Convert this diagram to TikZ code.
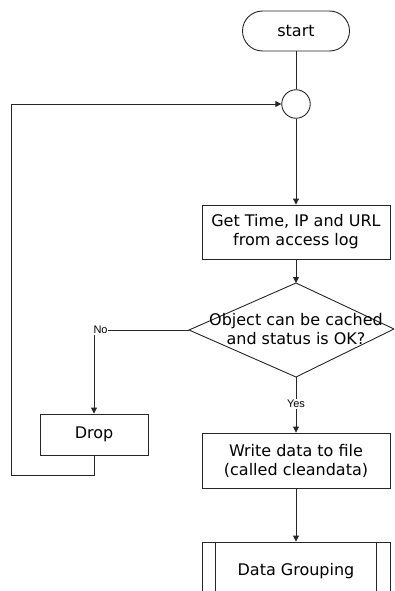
\documentclass[tikz,border=0pt]{standalone}
\usepackage{fontspec}
\setmainfont{DejaVu Sans}
\newfontfamily\lblfont{Liberation Sans}
\usetikzlibrary{arrows.meta,shapes.misc,calc}

\tikzset{
  flow/.style={line width=0.9pt, draw=black!85},
  arr/.style={flow, -{Triangle[length=6pt,width=6pt]}},
  txt/.style={font=\fontsize{16}{19}\selectfont, align=center},
  box/.style={flow, rectangle, txt, minimum width=188pt, inner sep=0pt},
  term/.style={flow, rounded rectangle, txt, minimum width=107pt, minimum height=40pt, inner sep=0pt},
  junction/.style={flow, circle, minimum size=28.5pt, inner sep=0pt},
  lbl/.style={font=\lblfont\fontsize{11}{12}\selectfont, fill=white, inner sep=0.8pt}
}

\begin{document}
\begin{tikzpicture}[x=1pt, y=-1pt]
  \useasboundingbox (0,0) rectangle (394,591);
  \clip (0,0) rectangle (394,591);

  % main column
  \node[term] (start) at (296,31) {start};
  \node[junction] (join) at (296,104) {};
  \node[box, minimum height=54pt] (get) at (296,232) {Get Time, IP and URL\\from access log};

  % decision diamond
  \coordinate (dT) at (296,283);
  \coordinate (dR) at (394,329);
  \coordinate (dB) at (296,377);
  \coordinate (dL) at (189,330);
  \draw[flow, line join=miter] (dT) -- (dR) -- (dB) -- (dL) -- cycle;
  \node[txt] (dec) at (296,329) {Object can be cached\\and status is OK?};

  \node[box, minimum height=55pt] (write) at (296,460.5) {Write data to file\\(called cleandata)};
  \node[box, minimum height=58pt] (group) at (296,571) {Data Grouping};
  \draw[flow] ([xshift=14pt]group.north west) -- ([xshift=14pt]group.south west);
  \draw[flow] ([xshift=-14pt]group.north east) -- ([xshift=-14pt]group.south east);

  % rejected branch
  \node[box, minimum width=108pt, minimum height=41pt] (drop) at (94,434.5) {Drop};

  % connectors
  \draw[flow] (start.south) -- (join.north);
  \draw[arr] (join.south) -- (get.north);
  \draw[arr] (get.south) -- (dT);
  \draw[arr] (dL) -| (drop.north);
  \node[lbl, anchor=west] (no) at (92.5,330) {No};
  \draw[arr] (dB) -- (write.north);
  \node[lbl] (yes) at (296,404) {Yes};
  \draw[arr] (write.south) -- (group.north);

  % loop back to the junction
  \coordinate (back) at (11,475);
  \draw[arr] (drop.south) |- (back) |- (join.west);
\end{tikzpicture}
\end{document}
